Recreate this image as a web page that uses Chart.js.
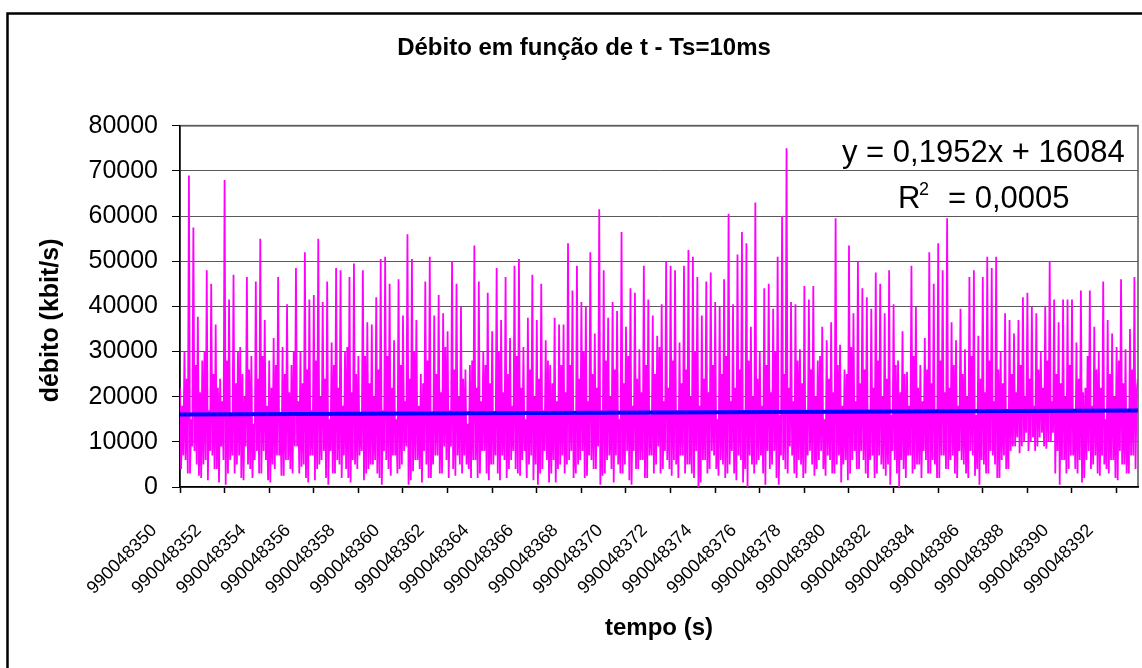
<!DOCTYPE html>
<html>
<head>
<meta charset="utf-8">
<script src="https://cdn.jsdelivr.net/npm/chart.js@4.4.1/dist/chart.umd.min.js"></script>
<style>
    html, body { margin: 0; padding: 0; background: #fff; }
    canvas { display: block; }
</style>
</head>
<body>
<canvas id="debitoChart" width="1142" height="668"></canvas>
<script>
// ===============================
// Dados
// ===============================
const tInicio = 990048350;     // s
const passo = 0.05;            // s entre leituras
const tDuracao = 42.96;        // s mostrados no eixo

const xTickLabels = [
    '990048350', '990048352', '990048354', '990048356', '990048358', '990048360',
    '990048362', '990048364', '990048366', '990048368', '990048370', '990048372',
    '990048374', '990048376', '990048378', '990048380', '990048382', '990048384',
    '990048386', '990048388', '990048390', '990048392'
];

// débito (kbit/s)
const debito = [
    // 0 - 8.6 s
    22000, 4000, 18000, 7000, 30000, 6000, 24000, 3000, 69000, 3000, 15000, 9000,
    57500, 8000, 27000, 5000, 37700, 2500, 21000, 2000, 28000, 5000, 30000, 6000,
    48000, 1500, 17000, 8000, 45000, 7000, 25000, 4000, 36000, 4000, 22000, 1000,
    24000, 9000, 19000, 6000, 68000, 500, 28000, 3000, 41500, 6000, 16000, 7000,
    47000, 3000, 23000, 5000, 30000, 7000, 31000, 2000, 25000, 1500, 20000, 9000,
    46500, 5000, 26000, 4000, 29000, 2000, 14000, 6000, 45500, 8000, 24000, 3000,
    55000, 3000, 29000, 8000, 37000, 6000, 18000, 1500, 28000, 1000, 22000, 5000,
    33000, 4000, 27000, 7000, 46500, 7000, 16000, 2500, 31000, 2500, 25000, 6000,
    40500, 6000, 21000, 4000, 27000, 3000, 30000, 9000, 48500, 9000, 19000, 3000,
    30000, 4500, 23000, 5000, 52000, 2000, 26000, 1000, 41500, 7000, 17000, 7000,
    42500, 1500, 28000, 4000, 55000, 5000, 20000, 6000, 41000, 8000, 24000, 2000,
    45500, 500, 15000, 8000, 32000, 3000, 27000, 3000, 48500, 6000, 22000, 5000,
    48000, 2000, 18000, 7000, 30000, 4000, 31000, 2000, 46500, 1000, 21000, 6000,
    49500, 5000, 25000, 4000, 29000, 7000, 16000, 8000, 48000, 1500, 29000, 3000,
    36500, 4000, 23000, 5000,
    // 8.6 - 17.2 s
    36000, 5000, 20000, 6000, 42000, 3000, 26000, 2000, 50500, 500, 17000, 8000,
    51000, 6000, 29000, 4000, 45000, 2500, 22000, 7000, 32500, 7000, 15000, 3000,
    46000, 4000, 27000, 5000, 38000, 8000, 19000, 9000, 56000, 500, 24000, 1500,
    50500, 3500, 30000, 6000, 37000, 6000, 18000, 4000, 25000, 1000, 23000, 8000,
    45500, 5000, 28000, 2000, 51000, 2000, 16000, 5000, 38000, 7000, 25000, 7000,
    42500, 3000, 21000, 3000, 38500, 9000, 31000, 6000, 34500, 2000, 17000, 9000,
    50000, 4000, 26000, 2500, 45000, 7000, 20000, 5000, 40000, 3000, 24000, 7000,
    26000, 5000, 14000, 4000, 27000, 2000, 28000, 6000, 53500, 6000, 22000, 2000,
    45500, 3000, 19000, 8000, 30000, 8000, 27000, 3000, 43000, 1500, 23000, 5000,
    34500, 5000, 16000, 7000, 48500, 3000, 30000, 1500, 37000, 7000, 21000, 6000,
    46500, 2000, 25000, 4000, 33000, 6000, 18000, 8000, 49000, 4000, 29000, 3000,
    50500, 2500, 22000, 6000, 31000, 8000, 15000, 2000, 37500, 5000, 26000, 7000,
    47000, 1500, 20000, 5000, 37000, 500, 24000, 3000, 45000, 4000, 17000, 8000,
    32500, 6000, 28000, 1000, 27000, 3000, 23000, 6000, 37500, 1000, 19000, 4000,
    36000, 5000, 27000, 7000,
    // 17.2 - 25.8 s
    36000, 3000, 21000, 5000, 54000, 6000, 27000, 8000, 43500, 2000, 16000, 3000,
    49000, 5000, 24000, 6000, 41000, 8000, 30000, 2000, 40000, 2500, 19000, 7000,
    52000, 6000, 25000, 4000, 34000, 4000, 22000, 9000, 61500, 500, 17000, 2500,
    48000, 3000, 28000, 6000, 37500, 7000, 20000, 4000, 41000, 1000, 26000, 7000,
    39000, 5000, 15000, 3000, 56500, 3000, 23000, 5000, 35500, 8000, 29000, 1500,
    44000, 500, 18000, 8000, 43000, 4000, 24000, 4000, 30500, 6000, 21000, 6000,
    49000, 2000, 27000, 2000, 41500, 7000, 16000, 7000, 38000, 3000, 25000, 5000,
    33500, 9000, 31000, 3000, 40500, 4000, 19000, 8000, 50000, 6000, 22000, 4000,
    49000, 2500, 28000, 6000, 48000, 5000, 17000, 2000, 32000, 7000, 23000, 7000,
    49000, 3000, 26000, 5000, 52500, 5000, 20000, 3000, 51000, 2000, 30000, 8000,
    46500, 0, 18000, 1000, 38000, 6000, 24000, 6000, 45500, 3000, 21000, 4000,
    47500, 8000, 27000, 7000, 41000, 4000, 15000, 2500, 40000, 6000, 25000, 5000,
    46000, 2000, 29000, 3000, 60500, 5000, 19000, 8000, 40500, 3000, 22000, 1500,
    51500, 7000, 26000, 6000, 56500, 1000, 17000, 4000, 54000, 0, 28000, 7000,
    35500, 5000, 20000, 3000,
    // 25.8 - 34.4 s
    63000, 5000, 24000, 6000, 30000, 7000, 18000, 3000, 44000, 500, 27000, 8000,
    45000, 4000, 21000, 5000, 39500, 8000, 30000, 2000, 51000, 500, 16000, 7000,
    60000, 6000, 25000, 4000, 75000, 3000, 22000, 9000, 41000, 7000, 19000, 3000,
    40500, 2000, 28000, 6000, 30500, 5000, 23000, 2000, 44500, 3000, 17000, 7000,
    41500, 8000, 26000, 5000, 44500, 2500, 20000, 4000, 28000, 6000, 29000, 8000,
    35500, 4000, 15000, 2500, 32500, 7000, 24000, 6000, 36500, 3000, 21000, 3000,
    59500, 5000, 27000, 7000, 31500, 1000, 18000, 5000, 26000, 6000, 25000, 1500,
    53500, 3000, 31000, 6000, 38500, 8000, 19000, 4000, 50000, 4000, 23000, 8000,
    44000, 6000, 26000, 3000, 42000, 2000, 17000, 6000, 39500, 7000, 22000, 2000,
    47500, 3000, 28000, 7000, 45000, 5000, 20000, 4000, 38500, 2500, 24000, 5000,
    48000, 500, 16000, 8000, 40500, 6000, 27000, 3000, 28000, 0, 21000, 6000,
    34500, 4000, 25000, 2000, 25500, 7000, 18000, 7000, 49000, 3000, 29000, 4000,
    40000, 5000, 22000, 5000, 27000, 2000, 19000, 8000, 33000, 6000, 26000, 3000,
    52000, 3000, 23000, 6000, 45000, 5000, 17000, 2000, 54000, 2000, 28000, 7000,
    48000, 7000, 21000, 4000,
    // 34.4 - 43 s
    59500, 4000, 22000, 6000, 36500, 7000, 27000, 3000, 32500, 2000, 18000, 8000,
    39500, 6000, 25000, 5000, 30500, 3000, 20000, 2000, 46500, 8000, 29000, 7000,
    48000, 2500, 16000, 4000, 33500, 500, 24000, 6000, 46500, 5000, 21000, 3000,
    51000, 3000, 28000, 8000, 48500, 7000, 19000, 5000, 51000, 2000, 26000, 2000,
    30000, 6000, 23000, 7000, 38500, 4000, 17000, 4000, 37000, 8000, 25000, 9000,
    34000, 9000, 21000, 11000, 37000, 7500, 27000, 9000, 42000, 10000, 20000, 12000,
    43000, 8000, 24000, 10000, 40000, 11000, 18000, 8000, 38500, 9000, 26000, 11000,
    30000, 12000, 22000, 9000, 40000, 8500, 28000, 10000, 50000, 10000, 19000, 12000,
    41500, 3000, 25000, 8000, 36500, 500, 23000, 6000, 41500, 6000, 20000, 3000,
    41500, 4000, 27000, 7000, 41500, 7000, 17000, 4000, 32000, 3000, 24000, 6000,
    43500, 1000, 21000, 2000, 22000, 6000, 29000, 8000, 43500, 4000, 18000, 5000,
    35500, 7000, 26000, 3000, 30000, 2500, 22000, 7000, 45500, 5000, 15000, 4000,
    37000, 3000, 25000, 6000, 34000, 6000, 20000, 2000, 31000, 1500, 28000, 8000,
    46000, 5000, 23000, 5000, 30500, 3000, 17000, 3000, 35000, 7000, 26000, 7000,
    46500, 4000, 21000, 24000
];

// linha de tendência (Excel, x = nº da amostra de 10 ms)
const trendSlope = 0.1952;
const trendIntercept = 16084;
const trendR2 = '0,0005';
const Ts = 0.01;

const yMax = 80000;
const yStep = 10000;

// ===============================
// Montagem
// ===============================
const FONT = '"Liberation Sans", Arial, Helvetica, sans-serif';

const pontos = debito.map((v, i) => ({ x: i * passo, y: v }));
const tendencia = [0, tDuracao - Ts].map(t => ({
    x: t,
    y: trendSlope * (t / Ts + 1) + trendIntercept
}));

const moldura = {
    id: 'moldura',
    beforeDraw(chart) {
        const { ctx, chartArea: a } = chart;
        ctx.save();
        ctx.fillStyle = '#fff';
        ctx.fillRect(0, 0, chart.width, chart.height);
        // borda do gráfico (cortada à direita e em baixo)
        ctx.strokeStyle = '#000';
        ctx.lineWidth = 2.5;
        ctx.beginPath();
        ctx.moveTo(7.5, chart.height);
        ctx.lineTo(7.5, 13.5);
        ctx.lineTo(chart.width, 13.5);
        ctx.stroke();
        // área de plotagem
        ctx.strokeStyle = '#808080';
        ctx.lineWidth = 2;
        ctx.strokeRect(a.left, a.top, a.right - a.left, a.bottom - a.top);
        ctx.restore();
    },
    afterDraw(chart) {
        const { ctx, chartArea: a } = chart;
        const slope = String(trendSlope).replace('.', ',');
        ctx.save();
        ctx.fillStyle = '#000';

        // título do eixo y
        ctx.save();
        ctx.translate(a.left - 128.5, (a.top + a.bottom) / 2 + 14);
        ctx.rotate(-Math.PI / 2);
        ctx.textAlign = 'center';
        ctx.textBaseline = 'middle';
        ctx.font = 'bold 25px ' + FONT;
        ctx.fillText('débito (kbit/s)', 0, 0);
        ctx.restore();

        // equação da tendência
        ctx.textAlign = 'left';
        ctx.textBaseline = 'alphabetic';
        ctx.font = '31px ' + FONT;
        ctx.fillText('y = ' + slope + 'x + ' + trendIntercept, a.right - 296, a.top + 36);
        ctx.fillText('R', a.right - 240, a.top + 82);
        ctx.fillText('= ' + trendR2, a.right - 190, a.top + 82);
        ctx.font = '18px ' + FONT;
        ctx.fillText('2', a.right - 219, a.top + 69);
        ctx.restore();
    }
};

new Chart(document.getElementById('debitoChart'), {
    type: 'line',
    data: {
        datasets: [
            {
                label: 'Linear (débito)',
                data: tendencia,
                borderColor: '#0000FF',
                borderWidth: 4,
                pointRadius: 0,
                tension: 0
            },
            {
                label: 'débito',
                data: pontos,
                borderColor: '#FF00FF',
                borderWidth: 1.8,
                borderJoinStyle: 'bevel',
                pointRadius: 0,
                tension: 0
            }
        ]
    },
    options: {
        responsive: false,
        animation: false,
        events: [],
        layout: {
            padding: { left: 30, right: 4, top: 14, bottom: 0 }
        },
        plugins: {
            legend: { display: false },
            tooltip: { enabled: false },
            title: {
                display: true,
                text: 'Débito em função de t - Ts=10ms',
                color: '#000',
                font: { family: FONT, size: 24, weight: 'bold' },
                padding: { top: 20, bottom: 63 }
            }
        },
        scales: {
            x: {
                type: 'linear',
                min: 0,
                max: tDuracao,
                border: { color: '#000', width: 1.5 },
                grid: {
                    drawOnChartArea: false,
                    drawTicks: true,
                    tickLength: 6,
                    tickColor: '#000',
                    tickWidth: 1.5
                },
                ticks: {
                    stepSize: 2,
                    includeBounds: false,
                    autoSkip: false,
                    minRotation: 45,
                    maxRotation: 45,
                    padding: 27,
                    labelOffset: -26,
                    color: '#000',
                    font: { family: FONT, size: 18 },
                    callback: (v, i) => xTickLabels[i]
                },
                title: {
                    display: true,
                    text: 'tempo (s)',
                    color: '#000',
                    font: { family: FONT, size: 24, weight: 'bold' },
                    padding: { top: 0, bottom: 25 }
                },
                afterFit: scale => {
                    scale.height = 181;
                    scale.paddingLeft = 0;
                    scale.paddingRight = 0;
                }
            },
            y: {
                min: 0,
                max: yMax,
                border: { color: '#000', width: 1.5 },
                grid: {
                    color: '#5a5a5a',
                    lineWidth: 1,
                    tickLength: 8,
                    tickColor: '#000'
                },
                ticks: {
                    stepSize: yStep,
                    padding: 14,
                    color: '#000',
                    font: { family: FONT, size: 25 },
                    callback: v => String(v)
                },
                afterFit: scale => { scale.width = 150; }
            }
        }
    },
    plugins: [moldura]
});
</script>
</body>
</html>
